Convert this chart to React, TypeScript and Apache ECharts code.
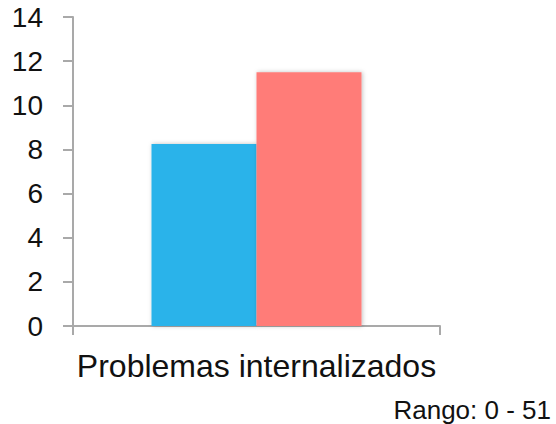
import React, { useEffect, useRef } from "react";
import * as echarts from "echarts";

const categories = ["Problemas internalizados"];
const seriesA = [8.25];
const seriesB = [11.5];
const yTicks = { min: 0, max: 14, interval: 2 };
const note = "Rango: 0 - 51";

export default function App() {
  const ref = useRef<HTMLDivElement>(null);
  useEffect(() => {
    document.body.style.margin = "0";
    if (!ref.current) return;
    const chart = echarts.init(ref.current, null, { renderer: "svg" });
    const font = "'Liberation Sans', Arial, Helvetica, sans-serif";
    const axisColor = "#a9a9a9";
    chart.setOption({
      animation: false,
      textStyle: { fontFamily: font },
      grid: { left: 73, top: 17, right: 116, bottom: 98, containLabel: false },
      xAxis: {
        type: "category",
        data: categories,
        boundaryGap: true,
        axisLine: { lineStyle: { color: axisColor, width: 2 } },
        axisTick: { show: true, length: 9, lineStyle: { color: axisColor, width: 2 } },
        axisLabel: { color: "#111", fontSize: 32, margin: 24, fontFamily: font },
      },
      yAxis: {
        type: "value",
        min: yTicks.min,
        max: yTicks.max,
        interval: yTicks.interval,
        splitLine: { show: false },
        axisLine: { show: true, lineStyle: { color: axisColor, width: 2 } },
        axisTick: { show: true, length: 10, lineStyle: { color: axisColor, width: 2 } },
        axisLabel: { color: "#111", fontSize: 28, margin: 30, fontFamily: font },
      },
      series: [
        {
          type: "bar",
          data: seriesA,
          barWidth: 105,
          barGap: "0%",
          itemStyle: {
            color: "#29b3ea",
            shadowColor: "rgba(0,0,0,0.25)",
            shadowBlur: 4,
            shadowOffsetX: 1,
          },
        },
        {
          type: "bar",
          data: seriesB,
          barWidth: 105,
          barGap: "0%",
          itemStyle: {
            color: "#ff7b78",
            shadowColor: "rgba(0,0,0,0.25)",
            shadowBlur: 4,
            shadowOffsetX: 1,
          },
        },
      ],
      graphic: [
        {
          type: "text",
          right: 5,
          top: 397,
          style: { text: note, fontSize: 26, fill: "#111", fontFamily: font },
        },
      ],
    });
    return () => chart.dispose();
  }, []);
  return <div ref={ref} style={{ width: 556, height: 424 }} />;
}
